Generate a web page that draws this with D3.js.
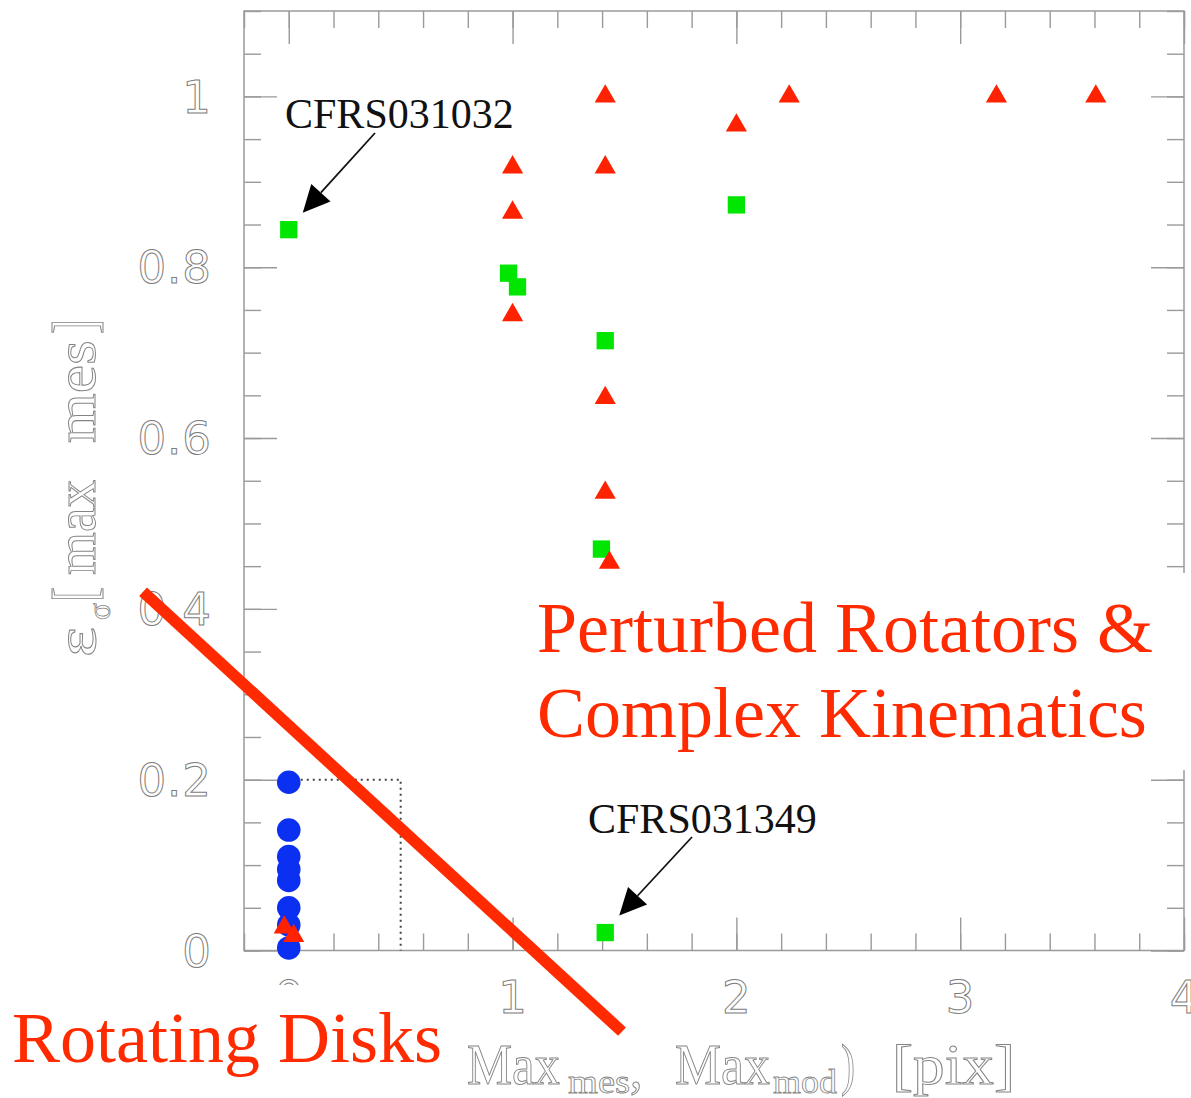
<!DOCTYPE html>
<html>
<head>
<meta charset="utf-8">
<script src="https://cdn.jsdelivr.net/npm/d3@7"></script>
<style>
  html, body { margin: 0; padding: 0; background: #fff; }
  svg { display: block; }
</style>
</head>
<body>
<svg id="chart" width="1191" height="1098"></svg>
<script>
// ---- data ----------------------------------------------------------------
// [max(Max_mes, Max_mod) in pix, eps_sigma]
const rotatingDisks = [
  [0, 0.197], [0, 0.141], [0, 0.110], [0, 0.095],
  [0, 0.082], [0, 0.050], [0, 0.030], [0, 0.003]
];
const perturbedRotators = [
  [0.0, 0.844], [0.982, 0.793], [1.022, 0.777], [1.414, 0.714],
  [1.397, 0.470], [2.0, 0.873], [1.414, 0.021]
];
const complexKinematics = [
  [1.414, 1.0], [2.236, 1.0], [3.162, 1.0], [3.606, 1.0],
  [2.0, 0.966], [1.0, 0.917], [1.414, 0.917], [1.0, 0.864],
  [1.0, 0.744], [1.414, 0.647], [1.414, 0.536], [1.433, 0.454],
  [-0.02, 0.027], [0.022, 0.017]
];

const xMajorTicks = [0, 1, 2, 3, 4];
const xTickLabels = ["0", "1", "2", "3", "4"];
const yMajorTicks = [0, 0.2, 0.4, 0.6, 0.8, 1.0];
const yTickLabels = ["0", "0.2", "0.4", "0.6", "0.8", "1"];

// selection box for rotating disks
const diskBox = { x0: 0, x1: 0.5, y0: 0, y1: 0.2 };

// dividing line between the two classes, in data units
const dividerLine = [[-0.651, 0.42], [1.489, -0.095]];

// labelled objects
const callouts = [
  { name: "CFRS031032", point: [0.0, 0.844] },
  { name: "CFRS031349", point: [1.414, 0.021] }
];

// ---- scales ----------------------------------------------------------------
const x = d3.scaleLinear().domain([-0.2, 4]).range([244, 1184]);
const y = d3.scaleLinear().domain([0, 1.1]).range([950.5, 11]);

const svg = d3.select("#chart");
const frameColor = "#9a9a9a";
const red = "#ff2a00";

// ---- frame and ticks --------------------------------------------------------
const xMinor = d3.range(-0.2, 4.0001, 0.2).map(v => +v.toFixed(2));
const yMinor = d3.range(0, 1.1001, 0.05).map(v => +v.toFixed(2));

function styleAxis(g) {
  g.select(".domain").remove();
  g.selectAll("line").attr("stroke", frameColor).attr("stroke-width", 1.4);
  g.selectAll("text").remove();
}

const axes = svg.append("g");
axes.append("g").attr("transform", `translate(0,${y(0)})`)
  .call(d3.axisBottom(x).tickValues(xMinor).tickSize(-17)).call(styleAxis);
axes.append("g").attr("transform", `translate(0,${y(0)})`)
  .call(d3.axisBottom(x).tickValues(xMajorTicks).tickSize(-33)).call(styleAxis);
axes.append("g").attr("transform", `translate(0,${y(1.1)})`)
  .call(d3.axisTop(x).tickValues(xMinor).tickSize(-17)).call(styleAxis);
axes.append("g").attr("transform", `translate(0,${y(1.1)})`)
  .call(d3.axisTop(x).tickValues(xMajorTicks).tickSize(-33)).call(styleAxis);
axes.append("g").attr("transform", `translate(${x(-0.2)},0)`)
  .call(d3.axisLeft(y).tickValues(yMinor).tickSize(-17)).call(styleAxis);
axes.append("g").attr("transform", `translate(${x(-0.2)},0)`)
  .call(d3.axisLeft(y).tickValues(yMajorTicks).tickSize(-33)).call(styleAxis);
axes.append("g").attr("transform", `translate(${x(4)},0)`)
  .call(d3.axisRight(y).tickValues(yMinor).tickSize(-17)).call(styleAxis);
axes.append("g").attr("transform", `translate(${x(4)},0)`)
  .call(d3.axisRight(y).tickValues(yMajorTicks).tickSize(-33)).call(styleAxis);

axes.append("rect")
  .attr("x", x(-0.2)).attr("y", y(1.1))
  .attr("width", x(4) - x(-0.2)).attr("height", y(0) - y(1.1))
  .attr("fill", "none").attr("stroke", frameColor).attr("stroke-width", 1.5);

// tick labels: thin outlined numerals
const tickFont = { family: "DejaVu Sans", size: 45 };
axes.selectAll("text.ytick").data(yMajorTicks).join("text")
  .attr("class", "ytick")
  .attr("x", 212).attr("y", d => y(d))
  .attr("dy", "0.36em")
  .attr("text-anchor", "end")
  .attr("font-family", tickFont.family).attr("font-size", tickFont.size)
  .attr("fill", "none").attr("stroke", "#7c7c7c").attr("stroke-width", 1)
  .attr("letter-spacing", 1)
  .text((d, i) => yTickLabels[i]);

axes.selectAll("text.xtick").data(xMajorTicks).join("text")
  .attr("class", "xtick")
  .attr("x", d => x(d)).attr("y", 997)
  .attr("dy", "0.36em")
  .attr("text-anchor", "middle")
  .attr("font-family", tickFont.family).attr("font-size", tickFont.size)
  .attr("fill", "none").attr("stroke", "#7c7c7c").attr("stroke-width", 1)
  .text((d, i) => xTickLabels[i]);

// axis titles, built from condensed serif pieces
function piece(g, str, px, py, size, len, sw = 1) {
  const t = g.append("text")
    .attr("x", px).attr("y", py)
    .attr("font-family", "Liberation Serif").attr("font-size", size)
    .attr("fill", "none").attr("stroke", "#858585").attr("stroke-width", sw)
    .text(str);
  if (len) t.attr("textLength", len).attr("lengthAdjust", "spacingAndGlyphs");
  return t;
}

const xTitle = svg.append("g");
piece(xTitle, "Max", 467, 1084, 58, 93);
piece(xTitle, "mes", 568, 1093, 34, 62, 0.8);
piece(xTitle, ",", 630, 1087, 50);
piece(xTitle, "Max", 675, 1084, 58, 95);
piece(xTitle, "mod", 773, 1093, 34, 64, 0.8);
piece(xTitle, ")", 841, 1084, 58, 14);
piece(xTitle, "[pix]", 892, 1084, 58, 123);

const yTitle = svg.append("g").attr("transform", "translate(95,657) rotate(-90)");
piece(yTitle, "\u03b5", 0, 0, 58, 30);
piece(yTitle, "\u03c3", 37, 15, 32, 17, 0.8);
piece(yTitle, "[", 55, 0, 62, 15);
piece(yTitle, "max", 82, 0, 58, 95);
piece(yTitle, "mes", 214, 0, 58, 103);
piece(yTitle, "]", 323, 0, 62, 15);

// ---- disk selection box ------------------------------------------------------
svg.append("path")
  .attr("d", `M${x(diskBox.x0)},${y(diskBox.y1)}H${x(diskBox.x1)}V${y(diskBox.y0)}`)
  .attr("fill", "none").attr("stroke", "#444").attr("stroke-width", 2)
  .attr("stroke-dasharray", "2,4");

// ---- points ----------------------------------------------------------------
const pts = svg.append("g");
pts.selectAll("circle").data(rotatingDisks).join("circle")
  .attr("cx", d => x(d[0])).attr("cy", d => y(d[1]))
  .attr("r", 11.8).attr("fill", "#0b30f2");

pts.selectAll("path.sq").data(perturbedRotators).join("path")
  .attr("class", "sq")
  .attr("transform", d => `translate(${x(d[0])},${y(d[1])})`)
  .attr("d", d3.symbol(d3.symbolSquare, 300))
  .attr("fill", "#00e600");

pts.selectAll("path.tri").data(complexKinematics).join("path")
  .attr("class", "tri")
  .attr("transform", d => `translate(${x(d[0])},${y(d[1])})`)
  .attr("d", d3.symbol(d3.symbolTriangle, 195))
  .attr("fill", "#ff2200");

// ---- callouts ----------------------------------------------------------------
const calloutLayout = [
  { tx: 285, ty: 128, tail: [375, 133] },
  { tx: 588, ty: 833, tail: [692, 837] }
];
const notes = svg.append("g");
callouts.forEach((c, i) => {
  const L = calloutLayout[i];
  notes.append("text")
    .attr("x", L.tx).attr("y", L.ty)
    .attr("font-family", "Liberation Serif").attr("font-size", 42)
    .attr("fill", "#111")
    .text(c.name);
  const tip = [x(c.point[0]) + 14, y(c.point[1]) - 17];
  const dx = tip[0] - L.tail[0], dy = tip[1] - L.tail[1];
  const len = Math.hypot(dx, dy), ux = dx / len, uy = dy / len;
  const headLen = 27, half = 13;
  const bx = tip[0] - ux * headLen, by = tip[1] - uy * headLen;
  notes.append("line")
    .attr("x1", L.tail[0]).attr("y1", L.tail[1])
    .attr("x2", bx).attr("y2", by)
    .attr("stroke", "#111").attr("stroke-width", 1.8);
  notes.append("path")
    .attr("d", `M${tip[0]},${tip[1]}L${bx - uy * half},${by + ux * half}L${bx + uy * half},${by - ux * half}Z`)
    .attr("fill", "#000");
});

// ---- class labels on white panels --------------------------------------------
const labels = svg.append("g");
labels.append("rect").attr("x", 530).attr("y", 573).attr("width", 661).attr("height", 197).attr("fill", "#fff");
labels.append("rect").attr("x", 0).attr("y", 985).attr("width", 455).attr("height", 113).attr("fill", "#fff");

const bigFont = { family: "Liberation Serif", size: 72 };
[["Perturbed Rotators &", 537, 652], ["Complex Kinematics", 537, 737], ["Rotating Disks", 12, 1062]]
  .forEach(([s, tx, ty]) => {
    labels.append("text")
      .attr("x", tx).attr("y", ty)
      .attr("font-family", bigFont.family).attr("font-size", bigFont.size)
      .attr("fill", red)
      .text(s);
  });

// ---- dividing line -------------------------------------------------------------
svg.append("line")
  .attr("x1", x(dividerLine[0][0])).attr("y1", y(dividerLine[0][1]))
  .attr("x2", x(dividerLine[1][0])).attr("y2", y(dividerLine[1][1]))
  .attr("stroke", red).attr("stroke-width", 11.5).attr("stroke-linecap", "butt");
</script>
</body>
</html>
